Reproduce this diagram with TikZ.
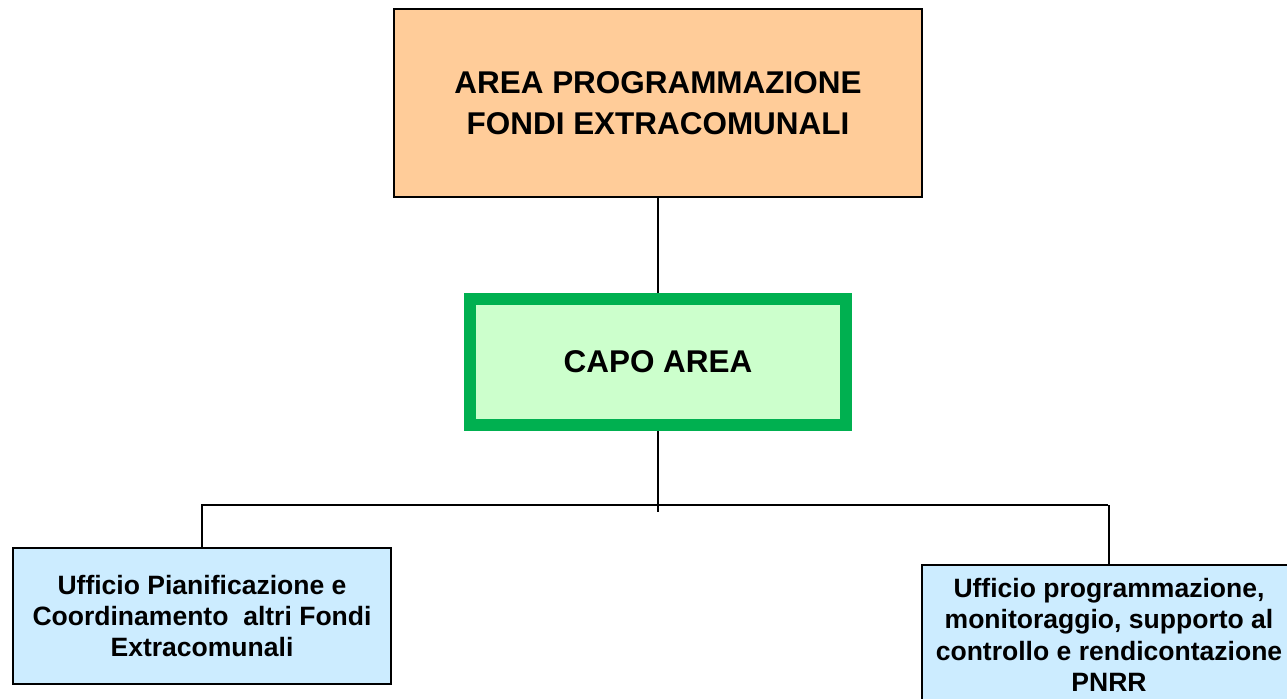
\documentclass[tikz,border=0pt]{standalone}
\usepackage{fontspec}
\setmainfont{Liberation Sans}
\definecolor{areaorange}{HTML}{FFCC99}
\definecolor{capogreen}{HTML}{CCFFCC}
\definecolor{capoborder}{HTML}{00B050}
\definecolor{ufficioblue}{HTML}{CCECFF}
\tikzset{
  areabox/.style={draw,line width=1.3pt,fill=areaorange,inner sep=0pt,outer sep=0pt,
    minimum width=10.56cm,minimum height=3.76cm,align=center,
    font=\fontsize{17.9}{23.3}\selectfont\bfseries},
  capobox/.style={draw=capoborder,line width=6.8pt,fill=capogreen,inner sep=0pt,outer sep=0pt,
    minimum width=7.52cm,minimum height=2.52cm,align=center,
    font=\fontsize{17.9}{23.3}\selectfont\bfseries},
  ufficiobox/.style={draw,line width=1.3pt,fill=ufficioblue,inner sep=0pt,outer sep=0pt,
    align=center,font=\fontsize{15.1}{17.9}\selectfont\bfseries},
  link/.style={line width=1pt}
}
\begin{document}
\begin{tikzpicture}[x=0.02cm,y=-0.02cm]
      \clip (0,0) rectangle (1287,698);
      \fill[white] (0,0) rectangle (1287,698);
      % boxes
      \node[areabox] (area) at (658,103) {AREA PROGRAMMAZIONE\\FONDI EXTRACOMUNALI};
      \node[capobox] (capo) at (658,362) {CAPO AREA};
      \node[ufficiobox,minimum width=7.56cm,minimum height=2.72cm] (pianif) at (202,616)
        {Ufficio Pianificazione e\\Coordinamento\ \ altri Fondi\\Extracomunali};
      \node[ufficiobox,minimum width=7.48cm,minimum height=2.8cm] (pnrr) at (1109,635)
        {Ufficio programmazione,\\monitoraggio, supporto al\\controllo e rendicontazione\\PNRR};
      % connectors
      \coordinate (barL) at (201,505);
      \coordinate (barR) at (1108,505);
      \draw[link] (area.south) -- ([yshift=3.4pt]capo.north);
      \draw[link] ([yshift=-3.4pt]capo.south) -- ([yshift=-4pt]capo.south |- barL);
      \draw[link] (barL) -- (barR);
      \draw[link] (pianif.north) -- (pianif.north |- barL);
      \draw[link] (pnrr.north) -- (pnrr.north |- barR);
    \end{tikzpicture}
\end{document}
